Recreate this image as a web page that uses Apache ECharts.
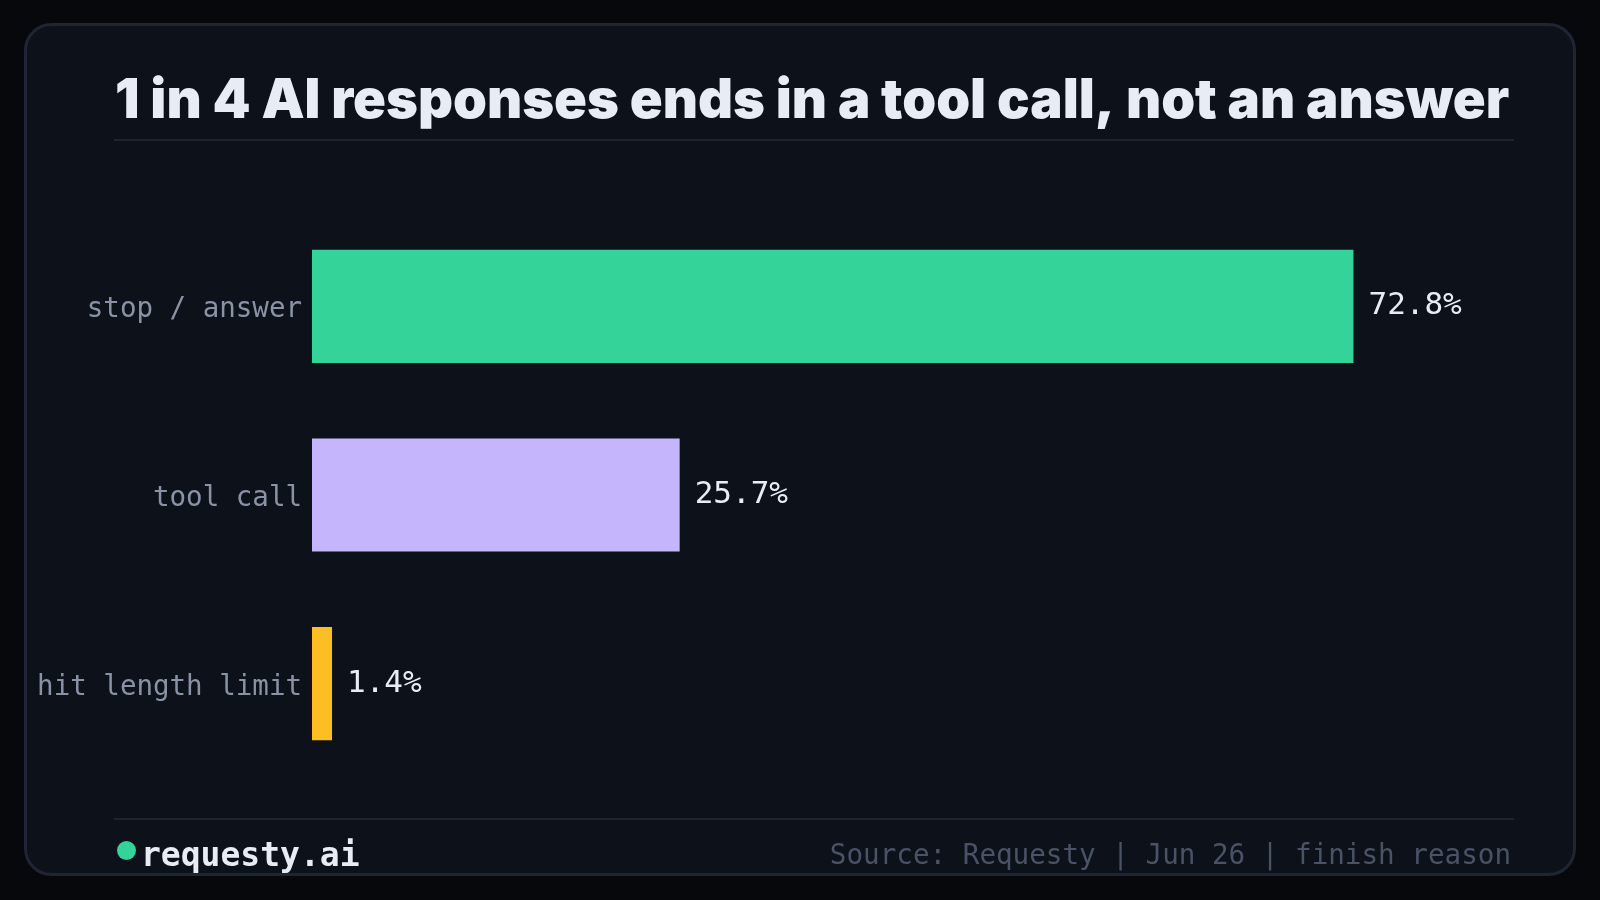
<!DOCTYPE html>
<html>
<head>
<meta charset="utf-8">
<script src="https://cdn.jsdelivr.net/npm/echarts@6/dist/echarts.min.js"></script>
<style>
  html, body { margin: 0; padding: 0; background: #06080c; }
  #chart { width: 1600px; height: 900px; }
</style>
</head>
<body>
<div id="chart"></div>
<script>
const categories = ['stop / answer', 'tool call', 'hit length limit'];
const values = [72.8, 25.7, 1.4];
const titleText = '1 in 4 AI responses ends in a tool call, not an answer';
const brandText = 'requesty.ai';
const sourceText = 'Source: Requesty | Jun 26 | finish reason';

const barColors = ['#34d399', '#c4b5fd', '#fbbf24'];
const mono = '"DejaVu Sans Mono", "Liberation Mono", monospace';

const chart = echarts.init(document.getElementById('chart'), null, { renderer: 'canvas' });
chart.setOption({
  backgroundColor: '#06080c',
  animation: false,
  graphic: [
    { type: 'rect', z: -10, shape: { x: 25.5, y: 24.5, width: 1549, height: 850, r: 26 },
      style: { fill: '#0d1119', stroke: '#1f2633', lineWidth: 3 } },
    { type: 'text', x: 115, y: 102, style: { text: titleText, fill: '#e8ecf4',
      font: '900 54.3px Inter', textAlign: 'left', verticalAlign: 'middle' } },
    { type: 'rect', shape: { x: 114, y: 139, width: 1400, height: 2 }, style: { fill: '#1e2430' } },
    { type: 'rect', shape: { x: 114, y: 818, width: 1400, height: 2 }, style: { fill: '#1e2430' } },
    { type: 'circle', shape: { cx: 126.5, cy: 850.5, r: 9.5 }, style: { fill: '#34d399' } },
    { type: 'text', x: 141, y: 857, style: { text: brandText, fill: '#e8ecf4',
      font: 'bold 33px ' + mono, textAlign: 'left', verticalAlign: 'middle' } },
    { type: 'text', x: 1511, y: 857, style: { text: sourceText, fill: '#4a5266',
      font: '27.6px ' + mono, textAlign: 'right', verticalAlign: 'middle' } }
  ],
  grid: { left: 312, right: 72, top: 212, bottom: 122, containLabel: false },
  xAxis: {
    type: 'value', min: 0, max: 85,
    show: false
  },
  yAxis: {
    type: 'category', data: categories, inverse: true,
    axisLine: { show: false }, axisTick: { show: false },
    axisLabel: {
      margin: 10,
      formatter: v => '{c|' + v + '}',
      rich: { c: { color: '#8a93a6', fontFamily: mono, fontSize: 27.5, padding: [8, 0, 0, 0] } }
    }
  },
  series: [{
    type: 'bar',
    data: values.map((v, i) => ({ value: v, itemStyle: { color: barColors[i] } })),
    barWidth: '60%',
    label: {
      show: true, position: 'right', distance: 15,
      formatter: p => p.value.toFixed(1) + '%',
      color: '#e8ecf4', fontFamily: mono, fontSize: 31
    }
  }]
});
</script>
</body>
</html>
